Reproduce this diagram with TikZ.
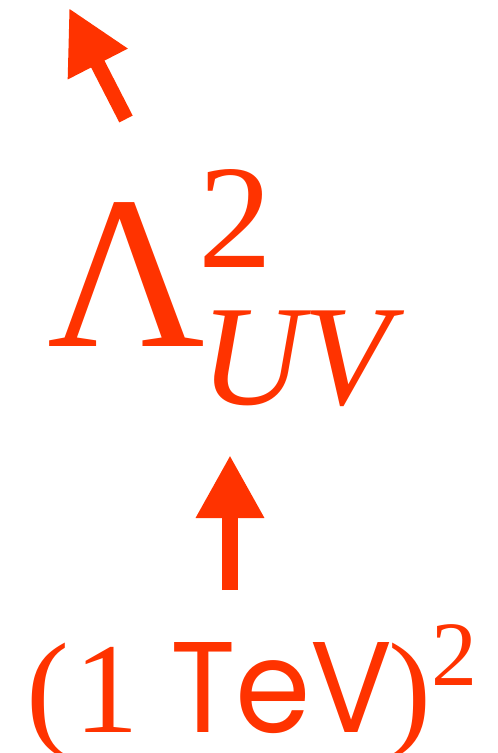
\documentclass[tikz,border=0pt]{standalone}
\usepackage{fontspec}
\usepackage{graphicx}
\setmainfont{Liberation Serif}
\newfontfamily\geofont{Poppins}
\usetikzlibrary{arrows.meta}
\definecolor{hot}{RGB}{255,51,0}
\tikzset{
  txt/.style={inner sep=0pt, outer sep=0pt, anchor=base west, text=hot},
  bigarrow/.style={draw=hot, line width=#1, line cap=butt},
}
\begin{document}
\begin{tikzpicture}[x=1pt,y=-1pt]
\useasboundingbox (0,0) rectangle (498,753);
% upper formula
\node[txt, font=\fontsize{218}{218}\selectfont] (lam) at (47,346) {Λ};
\node[txt, font=\fontsize{148}{148}\selectfont] (lamsq) at (198,267) {2};
\node[txt, font=\fontsize{143}{143}\selectfont\itshape] (uv) at (200,404) {UV};
% lower formula
\node[txt, font=\fontsize{129}{129}\selectfont] (lp) at (26,732) {(};
\node[txt, font=\fontsize{129}{129}\selectfont] (one) at (74,732) {1};
\node[txt, font=\fontsize{128}{128}\selectfont\geofont] (tev) at (170,732) {\resizebox{223pt}{90pt}{TeV}};
\node[txt, font=\fontsize{129}{129}\selectfont] (rp) at (388,732) {)};
\node[txt, font=\fontsize{92}{92}\selectfont] (tsq) at (431,685) {2};
% arrows
\coordinate (upbot) at (230,590);
\coordinate (uptip) at (230,455);
\draw[bigarrow=16pt, -{Triangle[width=64pt,length=63pt]}] (upbot) -- (uptip);
\coordinate (dgbot) at (126,119);
\coordinate (dgtip) at (69,8);
\draw[bigarrow=15pt, -{Triangle[width=63pt,length=63pt]}] (dgbot) -- (dgtip);
\end{tikzpicture}
\end{document}
